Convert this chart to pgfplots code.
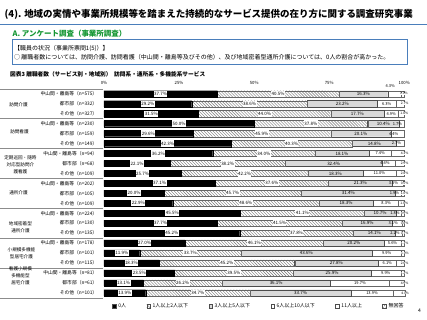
\documentclass[border=0pt]{standalone}
\usepackage{fontspec}
\setmainfont{Noto Sans CJK JP}
\usepackage{pgfplots}
\pgfplotsset{compat=1.18}
\usepackage{pgfplotstable}
\usetikzlibrary{patterns}

\definecolor{hdrblue}{RGB}{74,126,187}
\definecolor{grn}{RGB}{20,150,50}
\definecolor{lgray}{RGB}{217,217,217}

% y: row position (21 = top row); a..f: 0人, 1-2人, 3-5人, 6-10人, 11人以上, 無回答
\pgfplotstableread{
y a b c d e f
21 37.7 40.5 16.3 4.3 1.0 0.0
20 29.2 38.6 23.2 6.3 2.7 0.0
19 31.5 44.0 17.7 4.9 1.8 0.0
18 50.0 37.8 10.4 1.7 0.0 0.0
17 29.6 45.9 20.1 4.4 0.0 0.0
16 42.3 40.3 14.8 2.7 0.0 0.0
15 36.2 34.0 18.1 7.4 4.3 0.0
14 22.1 38.2 32.4 4.4 2.9 0.0
13 25.7 42.2 18.3 11.0 2.8 0.0
12 37.1 37.6 21.3 3.5 0.5 0.0
11 20.0 45.7 31.4 1.9 1.0 0.0
10 22.9 48.6 18.3 8.3 1.8 0.0
9 45.5 41.1 10.7 1.8 0.9 0.0
8 37.7 41.5 16.9 3.1 0.8 0.0
7 45.2 37.8 14.1 2.2 0.7 0.0
6 27.0 46.1 20.2 5.6 1.1 0.0
5 11.9 33.7 43.6 9.9 1.0 0.0
4 18.3 45.2 27.8 6.1 2.6 0.0
3 23.5 39.5 25.9 9.9 1.2 0.0
2 13.1 26.2 36.1 19.7 4.9 0.0
1 13.9 34.7 33.7 13.9 4.0 0.0
}\datatable

\begin{document}
\begin{tikzpicture}[x=1pt,y=1pt]
\path (0,0) rectangle (427,-320);

% header
\node[anchor=west, inner sep=0pt, font=\fontsize{9.5}{10}\selectfont\bfseries] at (4,-14.7)
  {(4). 地域の実情や事業所規模等を踏まえた持続的なサービス提供の在り方に関する調査研究事業};
\draw[hdrblue, line width=1pt] (0,-25) -- (427,-25);
\node[anchor=west, inner sep=0pt, text=grn, font=\fontsize{7.5}{8}\selectfont\bfseries] at (12,-33.3)
  {A. アンケート調査（事業所調査）};
\draw[hdrblue, line width=1.1pt] (11.7,-39.5) rectangle (408,-65);
\node[anchor=west, inner sep=0pt, font=\fontsize{6}{6}\selectfont] at (13.5,-48.5)
  {【職員の状況（事業所票問1(5)）】};
\node[anchor=west, inner sep=0pt, font=\fontsize{6}{6}\selectfont] at (13.5,-57)
  {○ 離職者数については、訪問介護、訪問看護（中山間・離島等及びその他）、及び地域密着型通所介護については、0人の割合が高かった。};
\node[anchor=west, inner sep=0pt, font=\fontsize{5.7}{6}\selectfont\bfseries] at (9.5,-74)
  {図表3\ 離職者数（サービス別・地域別）\ \ 訪問系・通所系・多機能系サービス};

% group separators
\foreach \k in {0,...,7} \draw[black!45, line width=0.4pt] (0,{-89-29.925*\k}) -- (103,{-89-29.925*\k});

% group labels
\begin{scope}[every node/.style={align=center, inner sep=0pt, font=\fontsize{4.6}{7}\selectfont}]
\node at (18,-105) {訪問介護};
\node at (19,-132) {訪問看護};
\node at (20,-165) {定期巡回・随時\\対応型訪問介\\護看護};
\node at (18,-193.7) {通所介護};
\node at (20,-228) {地域密着型\\通所介護};
\node at (21,-253.5) {小規模多機能\\型居宅介護};
\node at (20,-276) {看護小規模\\多機能型\\居宅介護};
\end{scope}

\node[inner sep=0pt, font=\fontsize{5}{5}\selectfont] at (420,-311) {4};

\begin{axis}[
  at={(103.7pt,-89pt)}, anchor=north west,
  scale only axis, width=301pt, height=209.5pt,
  xbar stacked, bar width=6.2pt,
  xmin=0, xmax=100, ymin=0.5, ymax=21.5,
  axis line style={draw=none}, major tick length=0pt,
  xtick={0,25,50,75,100},
  xticklabels={0\%,25\%,50\%,75\%,100\%},
  xticklabel pos=upper,
  xticklabel style={font=\fontsize{4.3}{4.5}\selectfont, inner sep=0pt, yshift=4.3pt},
  ytick={1,...,21},
  yticklabels={その他（n=101）,都市部（n=61）,中山間・離島等（n=81）,
    その他（n=115）,都市部（n=101）,中山間・離島等（n=178）,
    その他（n=135）,都市部（n=130）,中山間・離島等（n=224）,
    その他（n=109）,都市部（n=105）,中山間・離島等（n=202）,
    その他（n=109）,都市部（n=68）,中山間・離島等（n=94）,
    その他（n=149）,都市部（n=159）,中山間・離島等（n=230）,
    その他（n=327）,都市部（n=332）,中山間・離島等（n=575）},
  yticklabel style={font=\fontsize{4.8}{5}\selectfont, inner sep=0pt, xshift=-6.5pt},
  clip=false,
  /pgf/number format/assume math mode=true,
  point meta=explicit,
  nodes near coords={\pgfmathprintnumber[fixed,fixed zerofill,precision=1]{\pgfplotspointmeta}\%},
  nodes near coords align={center},
  visualization depends on={rawx \as \val},
  visualization depends on={rawy \as \ry},
  legend columns=6,
  legend image code/.code={\draw[#1, draw=black!70, line width=0.3pt] (0pt,-1.9pt) rectangle (3.8pt,1.9pt);},
  legend style={at={(0.516,-0.0406)}, anchor=center, draw=none, fill=none, inner sep=0pt,
    font=\fontsize{5}{5}\selectfont, /tikz/every even column/.append style={column sep=18.5pt}},
  legend cell align=left,
]
% labels of stacked segments are placed at the segment middle by pgfplots
\addplot[fill=black, draw=black, line width=0.2pt,
  every node near coord/.append style={anchor=center, fill=white,
    inner xsep=0.5pt, inner ysep=0pt, minimum height=6.3pt, font=\fontsize{4.5}{5}\selectfont}]
  table[x=a, y=y, meta=a]{\datatable};
\addplot[pattern=north west lines, pattern color=black!55, draw=black!60, line width=0.2pt,
  every node near coord/.append style={anchor=center, fill=white,
    inner xsep=0.5pt, inner ysep=0pt, minimum height=6.3pt, font=\fontsize{4.5}{5}\selectfont}]
  table[x=b, y=y, meta=b]{\datatable};
\addplot[fill=lgray, draw=black!70, line width=0.3pt,
  every node near coord/.append style={anchor=center,
    inner xsep=0.5pt, inner ysep=0pt, font=\fontsize{4.5}{5}\selectfont}]
  table[x=c, y=y, meta=c]{\datatable};
\addplot[fill=white, draw=black!60, line width=0.3pt,
  every node near coord/.append style={anchor=center,
    xshift={(\val<4.5 ? -4 : 0)*1pt}, yshift={(\ry>20.5 ? 7.5 : 0)*1pt},
    inner xsep=0.3pt, inner ysep=0pt, font=\fontsize{4}{4.5}\selectfont}]
  table[x=d, y=y, meta=d]{\datatable};
\addplot[fill=white, draw=black!60, line width=0.3pt,
  every node near coord/.append style={anchor=center, xshift={1.505pt*\val+0.3pt}, fill=white,
    inner xsep=0.3pt, inner ysep=0pt, font=\fontsize{3.3}{3.5}\selectfont}]
  table[x=e, y=y, meta=e]{\datatable};
\addplot[pattern=crosshatch dots, pattern color=black!70, draw=none,
  every node near coord/.append style={anchor=center, xshift=13.5pt,
    inner xsep=0.3pt, inner ysep=0pt, font=\fontsize{3.3}{3.5}\selectfont}]
  table[x=f, y=y, meta=f]{\datatable};
\legend{0人,1人以上2人以下,3人以上5人以下,6人以上10人以下,11人以上,無回答}
\end{axis}
\end{tikzpicture}
\end{document}
